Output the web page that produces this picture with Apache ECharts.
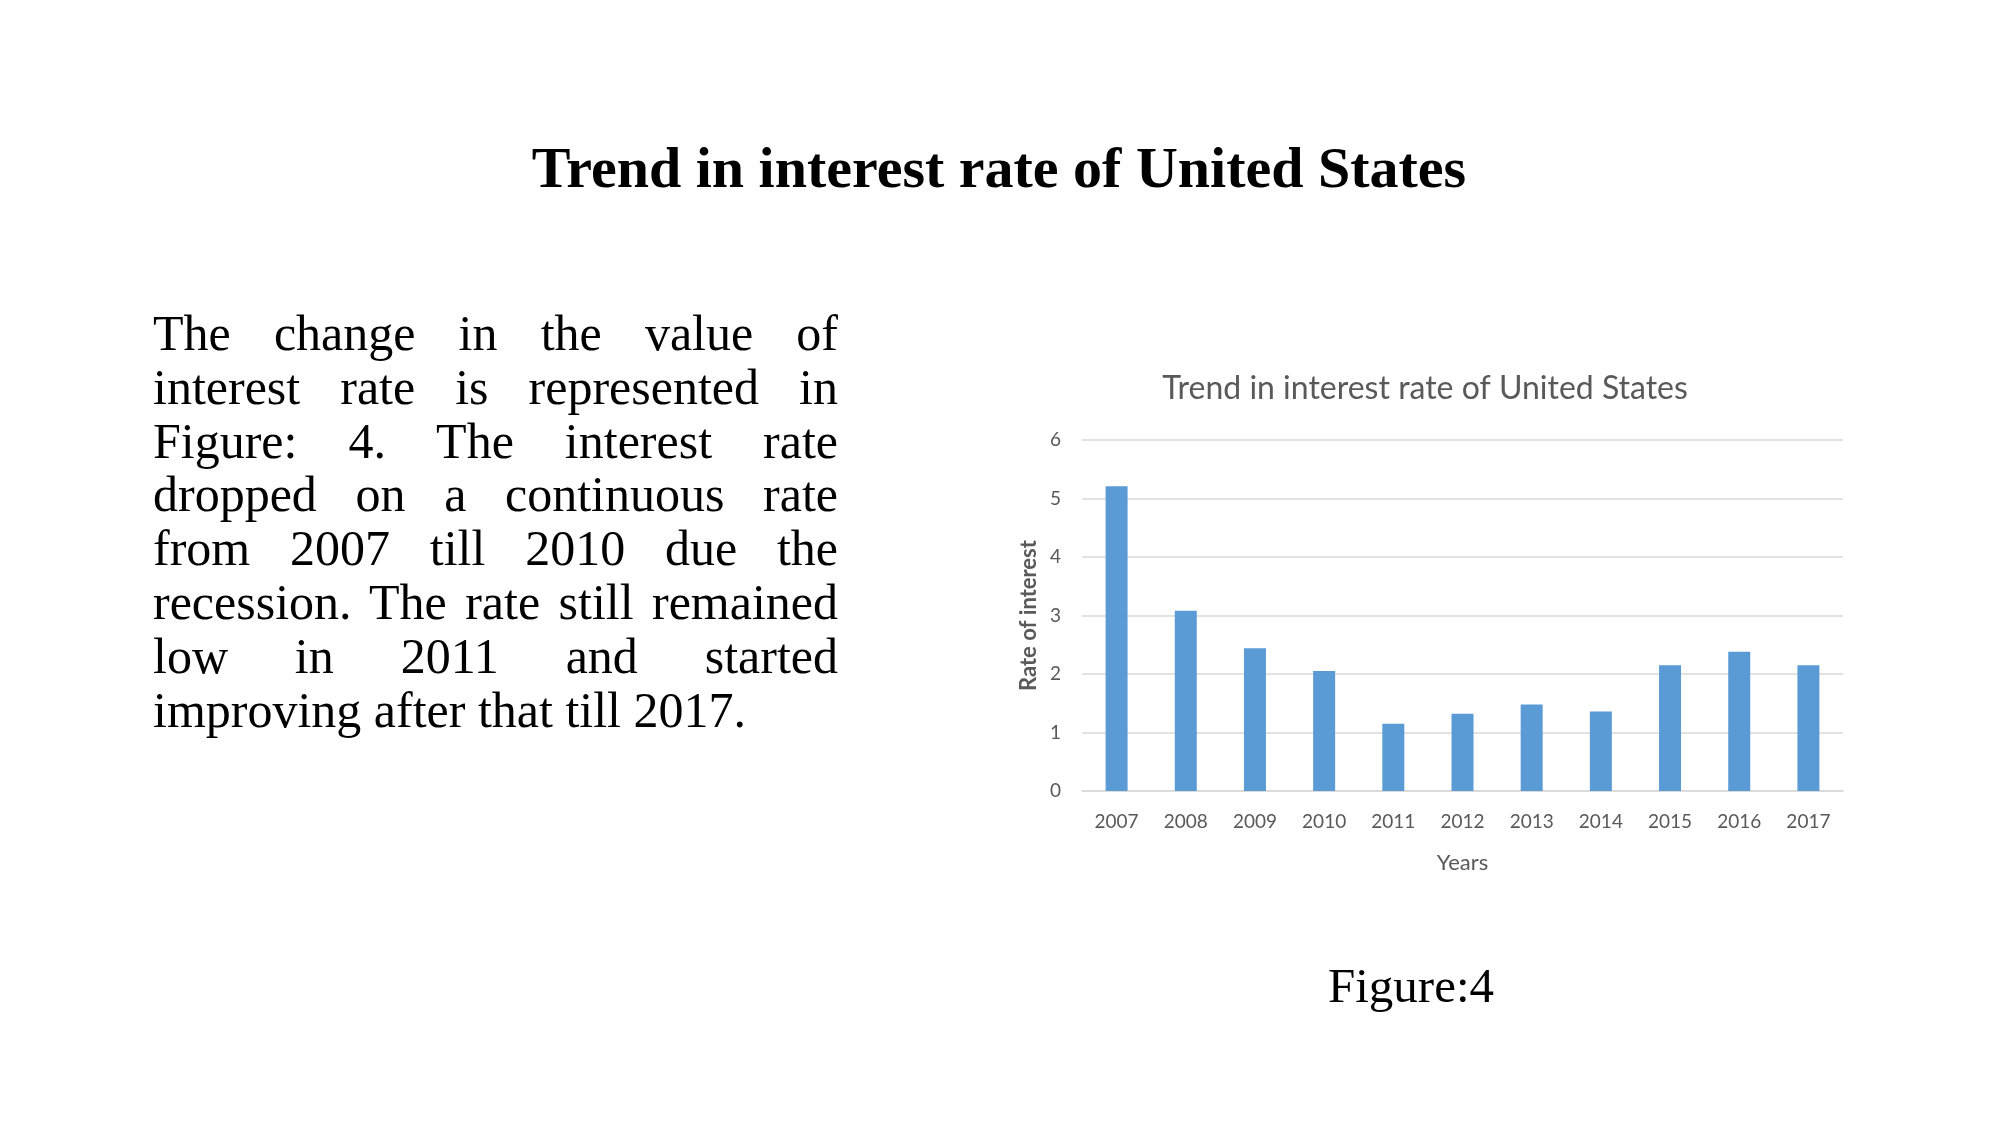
<!DOCTYPE html>
<html>
<head>
<meta charset="utf-8">
<script src="https://cdn.jsdelivr.net/npm/echarts@6/dist/echarts.min.js"></script>
<style>
  html, body { margin: 0; padding: 0; background: #ffffff; }
  #wrap { position: relative; width: 2001px; height: 1125px; overflow: hidden; background: #fff; }
  #chart { position: absolute; left: 0; top: 0; width: 2001px; height: 1125px; }
  .serif { font-family: "Liberation Serif", "Times New Roman", serif; color: #000; position: absolute; }
  #slideTitle { left: 0; width: 1998px; top: 139px; font-size: 58px; line-height: 58px; font-weight: bold; text-align: center; }
  #body { left: 153px; width: 685px; top: 307px; font-size: 50px; }
  #body div { line-height: 53.8px; height: 53.8px; text-align: justify; text-align-last: justify; white-space: nowrap; }
  #body div.last { text-align: left; text-align-last: left; }
  #caption { left: 1211px; width: 400px; top: 961px; font-size: 49px; line-height: 49px; text-align: center; }
</style>
</head>
<body>
<div id="wrap">
  <div id="chart"></div>
  <div id="slideTitle" class="serif"></div>
  <div id="body" class="serif"></div>
  <div id="caption" class="serif"></div>
</div>
<script>
// ---- data ----
var years = ['2007', '2008', '2009', '2010', '2011', '2012', '2013', '2014', '2015', '2016', '2017'];
var rates = [5.21, 3.08, 2.44, 2.05, 1.15, 1.32, 1.48, 1.36, 2.15, 2.38, 2.15];
var yTicks = [0, 1, 2, 3, 4, 5, 6];
var chartTitle = 'Trend in interest rate of United States';
var xAxisName = 'Years';
var yAxisName = 'Rate of interest';
var slideTitle = 'Trend in interest rate of United States';
var bodyLines = [
  'The change in the value of',
  'interest rate is represented in',
  'Figure: 4. The interest rate',
  'dropped on a continuous rate',
  'from 2007 till 2010 due the',
  'recession. The rate still remained',
  'low in 2011 and started',
  'improving after that till 2017.'
];
var caption = 'Figure:4';

// ---- slide text ----
document.getElementById('slideTitle').textContent = slideTitle;
document.getElementById('caption').textContent = caption;
var bodyEl = document.getElementById('body');
bodyLines.forEach(function (t, i) {
  var d = document.createElement('div');
  if (i === bodyLines.length - 1) d.className = 'last';
  d.textContent = t;
  bodyEl.appendChild(d);
});

// ---- chart ----
var chart = echarts.init(document.getElementById('chart'), null, { renderer: 'canvas' });
var gray = '#595959';
var font = 'Lato, "Open Sans", sans-serif';
chart.setOption({
  animation: false,
  backgroundColor: 'transparent',
  graphic: [{
    type: 'text',
    x: 1425, y: 389,
    style: {
      text: chartTitle,
      fill: gray,
      font: '32px ' + font,
      textAlign: 'center',
      textVerticalAlign: 'middle',
      align: 'center',
      verticalAlign: 'middle'
    }
  }],
  grid: { left: 1082, right: 158, top: 440, bottom: 334, containLabel: false },
  xAxis: {
    type: 'category',
    data: years,
    axisTick: { show: false },
    axisLine: { lineStyle: { color: '#d9d9d9', width: 1.5 } },
    axisLabel: { color: gray, fontFamily: font, fontSize: 19, margin: 21 },
    name: xAxisName,
    nameLocation: 'middle',
    nameGap: 61,
    nameTextStyle: { color: gray, fontFamily: font, fontSize: 22 }
  },
  yAxis: {
    type: 'value',
    min: 0, max: 6, interval: 1,
    axisLine: { show: false },
    axisTick: { show: false },
    splitLine: { lineStyle: { color: '#d9d9d9', width: 1.5 } },
    axisLabel: {
      color: gray, fontFamily: font, fontSize: 19, margin: 21,
      formatter: function (v) { return yTicks.indexOf(v) >= 0 ? String(v) : ''; }
    },
    name: yAxisName,
    nameLocation: 'middle',
    nameGap: 42,
    nameRotate: 90,
    nameTextStyle: { color: gray, fontFamily: font, fontSize: 22, fontWeight: 'bold' }
  },
  series: [{
    type: 'bar',
    data: rates,
    barWidth: 22,
    itemStyle: { color: '#5b9bd5' }
  }]
});
</script>
</body>
</html>
